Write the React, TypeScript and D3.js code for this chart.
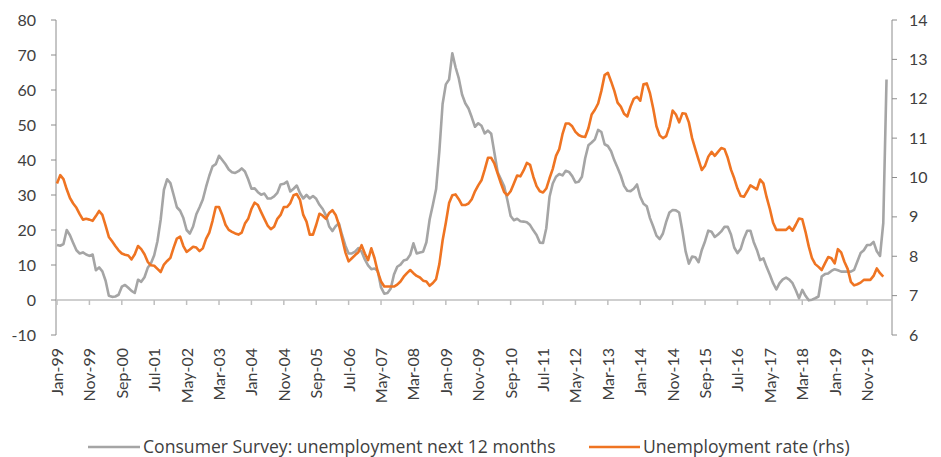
import React from "react";
import * as d3 from "d3";

const survey: number[] = [
15.7,15.5,16.0,20.0,18.5,16.3,14.2,13.3,13.6,13.0,12.6,13.0,8.5,9.3,8.2,5.5,1.2,0.9,1.0,1.5,
3.8,4.3,3.5,2.6,2.0,5.8,5.2,6.5,9.2,10.5,12.8,16.8,23.0,31.5,34.5,33.4,30.0,26.5,25.5,23.4,
20.0,19.0,21.0,24.5,26.5,28.7,32.3,35.5,38.2,38.8,41.2,40.0,38.8,37.3,36.5,36.3,36.8,37.6,36.7,34.5,
31.8,31.9,30.8,30.1,30.4,29.0,29.0,29.6,30.6,33.0,33.2,33.8,31.0,31.8,32.7,30.5,29.0,30.0,29.0,29.7,
28.9,27.2,26.0,24.2,21.0,19.7,21.1,21.9,18.5,15.5,13.3,13.3,13.8,14.8,13.8,11.6,9.9,8.8,9.0,8.3,
3.6,1.8,2.0,3.3,7.3,9.5,10.1,11.3,11.6,12.9,16.2,13.3,13.6,13.8,16.5,23.0,27.2,31.7,42.5,56.0,
61.6,63.0,70.5,66.5,63.3,58.7,56.2,54.7,52.2,49.5,50.5,49.8,47.6,48.4,47.5,42.0,36.5,34.5,32.5,28.5,
24.0,22.8,23.2,22.5,22.4,22.2,21.4,19.9,18.6,16.4,16.3,20.5,29.5,33.3,35.2,36.0,35.6,36.9,36.6,35.4,
33.6,33.8,35.2,40.5,44.2,45.0,45.9,48.6,48.0,44.5,44.0,42.5,39.9,37.8,35.5,32.6,31.2,31.1,31.8,33.0,
29.5,27.5,26.8,23.4,21.0,18.4,17.4,19.0,22.3,25.0,25.7,25.6,25.0,19.8,13.9,10.4,12.4,12.2,10.8,14.3,
16.8,19.8,19.5,18.0,18.7,19.6,20.9,20.9,18.7,15.0,13.4,14.6,17.6,19.8,19.8,16.6,14.3,11.4,11.9,9.4,
7.2,4.8,3.0,4.8,5.9,6.4,5.8,4.8,2.8,0.5,2.9,1.2,-0.1,0.1,0.5,1.0,6.7,7.4,7.6,8.3,
8.8,8.5,8.1,8.1,8.1,8.1,8.6,11.0,13.4,14.2,15.7,15.7,16.6,13.9,12.6,22.0,63.0
];

const unemployment: number[] = [
9.85,10.06,9.96,9.7,9.48,9.34,9.23,9.07,8.93,8.95,8.93,8.9,9.02,9.15,9.05,8.78,8.49,8.38,8.26,8.15,
8.07,8.04,8.02,7.92,8.05,8.26,8.18,8.05,7.86,7.77,7.76,7.68,7.6,7.79,7.88,7.96,8.22,8.45,8.5,8.26,
8.11,8.17,8.24,8.22,8.13,8.2,8.44,8.6,8.9,9.25,9.25,9.05,8.8,8.67,8.62,8.58,8.55,8.6,8.83,8.95,
9.2,9.36,9.3,9.12,8.95,8.78,8.69,8.75,8.95,9.05,9.25,9.25,9.35,9.55,9.58,9.43,9.05,8.88,8.55,8.55,
8.8,9.08,9.03,8.95,9.1,9.17,9.05,8.8,8.45,8.1,7.87,7.95,8.03,8.1,8.28,8.07,7.9,8.2,7.95,7.6,
7.36,7.23,7.23,7.23,7.23,7.28,7.36,7.48,7.57,7.65,7.57,7.5,7.46,7.38,7.36,7.25,7.32,7.42,7.8,8.4,
8.85,9.35,9.55,9.57,9.45,9.3,9.3,9.34,9.45,9.65,9.8,9.93,10.2,10.5,10.5,10.35,10.1,9.85,9.63,9.55,
9.65,9.85,10.05,10.03,10.18,10.37,10.32,10.02,9.78,9.65,9.62,9.72,9.98,10.22,10.55,10.72,11.1,11.37,11.37,11.3,
11.16,11.08,11.04,11.03,11.25,11.6,11.72,11.88,12.2,12.6,12.66,12.44,12.2,11.9,11.8,11.62,11.55,11.8,12.0,12.05,
11.95,12.37,12.39,12.14,11.75,11.3,11.07,11.0,11.05,11.3,11.7,11.6,11.4,11.63,11.62,11.4,11.0,10.72,10.45,10.19,
10.3,10.53,10.65,10.55,10.65,10.75,10.72,10.5,10.2,9.98,9.72,9.53,9.51,9.65,9.8,9.75,9.7,9.95,9.85,9.5,
9.2,8.85,8.67,8.67,8.67,8.67,8.75,8.65,8.8,8.96,8.94,8.62,8.25,7.95,7.8,7.73,7.65,7.82,7.98,7.95,
7.82,8.18,8.1,7.86,7.68,7.35,7.26,7.29,7.33,7.4,7.4,7.4,7.5,7.69,7.57,7.48
];

const xTickLabels: string[] = [
"Jan-99","Nov-99","Sep-00","Jul-01","May-02","Mar-03","Jan-04","Nov-04","Sep-05","Jul-06",
"May-07","Mar-08","Jan-09","Nov-09","Sep-10","Jul-11","May-12","Mar-13","Jan-14","Nov-14",
"Sep-15","Jul-16","May-17","Mar-18","Jan-19","Nov-19"
];
const labelStep = 10;
const leftTicks: number[] = [-10, 0, 10, 20, 30, 40, 50, 60, 70, 80];
const rightTicks: number[] = [6, 7, 8, 9, 10, 11, 12, 13, 14];
const seriesNames: string[] = ["Consumer Survey: unemployment next 12 months", "Unemployment rate (rhs)"];

const GRAY = "#a5a5a5";
const ORANGE = "#ef7422";
const AXIS = "#8c8c8c";
const TEXT = "#404040";
const FONT = "Lato, 'Open Sans', sans-serif";
const LEGEND_FONT = "'Open Sans', Lato, sans-serif";

export default function App() {
  const W = 941, H = 457;
  const plotLeft = 56, plotRight = 892, plotTop = 20, plotBottom = 335;
  const x = d3.scaleLinear().domain([0, 258]).range([57, 893]);
  const yL = d3.scaleLinear().domain([-10, 80]).range([plotBottom, plotTop]);
  const yR = d3.scaleLinear().domain([6, 14]).range([plotBottom, plotTop]);

  const lineL = d3.line<number>().x((_, i) => x(i)).y((d) => yL(d));
  const lineR = d3.line<number>().x((_, i) => x(i)).y((d) => yR(d));

  const y0 = yL(0);

  return (
    <svg width={W} height={H} style={{ position: "fixed", left: 0, top: 0, background: "#fff" }} fontFamily={FONT}>
      <rect x={0} y={0} width={W} height={H} fill="#fff" />
      {/* left axis */}
      <line x1={plotLeft} x2={plotLeft} y1={plotTop} y2={plotBottom} stroke={AXIS} strokeWidth={1} />
      {leftTicks.map((t) => (
        <g key={"l" + t}>
          <line x1={plotLeft - 5} x2={plotLeft} y1={yL(t)} y2={yL(t)} stroke={AXIS} />
          <text x={36} y={yL(t)} dy="0.35em" textAnchor="end" fontSize={16} fill={TEXT}>{t}</text>
        </g>
      ))}
      {/* right axis */}
      <line x1={plotRight} x2={plotRight} y1={plotTop} y2={plotBottom} stroke={AXIS} strokeWidth={1} />
      {rightTicks.map((t) => (
        <g key={"r" + t}>
          <line x1={plotRight} x2={plotRight + 5} y1={yR(t)} y2={yR(t)} stroke={AXIS} />
          <text x={909} y={yR(t)} dy="0.35em" textAnchor="start" fontSize={16} fill={TEXT}>{t}</text>
        </g>
      ))}
      {/* x axis at zero */}
      <line x1={plotLeft} x2={plotRight} y1={y0} y2={y0} stroke="#bfbfbf" strokeWidth={1.5} />
      {xTickLabels.map((lab, k) => {
        const xi = x(k * labelStep);
        return (
          <g key={lab}>
            <line x1={xi} x2={xi} y1={y0} y2={y0 + 5} stroke="#bfbfbf" strokeWidth={1.5} />
            <text transform={`translate(${xi + 6},${348}) rotate(-90)`} textAnchor="end" fontSize={16} fill={TEXT}>{lab}</text>
          </g>
        );
      })}
      {/* series */}
      <path d={lineL(survey) || ""} fill="none" stroke={GRAY} strokeWidth={2.6} strokeLinejoin="round" />
      <path d={lineR(unemployment) || ""} fill="none" stroke={ORANGE} strokeWidth={2.6} strokeLinejoin="round" />
      {/* legend */}
      <line x1={88} x2={140} y1={447} y2={447} stroke={GRAY} strokeWidth={2.6} />
      <text x={143} y={447} dy="0.35em" fontSize={17.6} fontFamily={LEGEND_FONT} fill={TEXT}>{seriesNames[0]}</text>
      <line x1={589} x2={640} y1={447} y2={447} stroke={ORANGE} strokeWidth={2.6} />
      <text x={643} y={447} dy="0.35em" fontSize={17.6} fontFamily={LEGEND_FONT} fill={TEXT}>{seriesNames[1]}</text>
    </svg>
  );
}
